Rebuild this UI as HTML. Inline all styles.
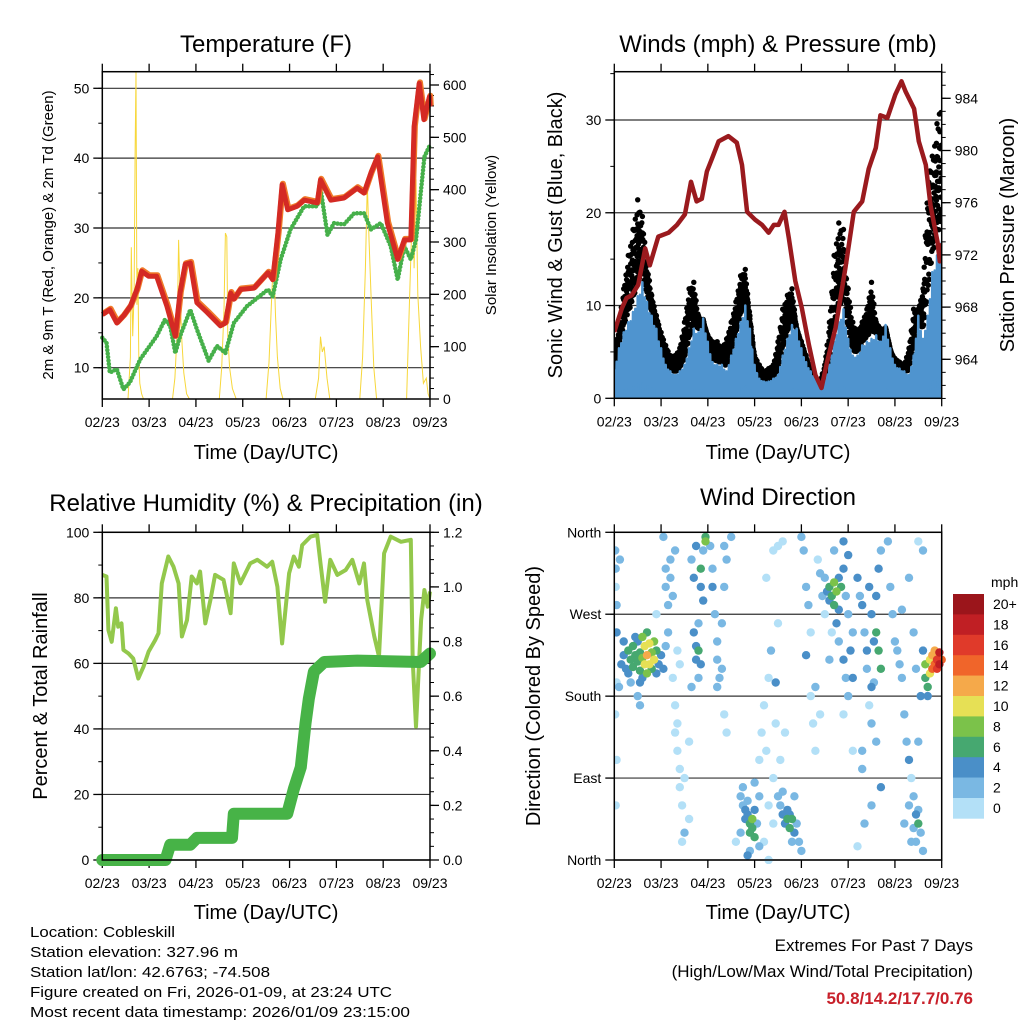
<!DOCTYPE html>
<html><head><meta charset="utf-8">
<style>
html,body{margin:0;padding:0;background:#fff;}
svg{display:block;font-family:"Liberation Sans",sans-serif;}
</style></head>
<body>
<svg id="fig" width="1024" height="1024" viewBox="0 0 1024 1024" xmlns="http://www.w3.org/2000/svg">
<rect width="1024" height="1024" fill="#fff"/>
<text x="266" y="52" font-size="24" text-anchor="middle">Temperature (F)</text>
<text x="778" y="52" font-size="24" text-anchor="middle">Winds (mph) &amp; Pressure (mb)</text>
<text x="266" y="511" font-size="24" text-anchor="middle">Relative Humidity (%) &amp; Precipitation (in)</text>
<text x="778" y="505" font-size="24" text-anchor="middle">Wind Direction</text>
<text x="266" y="459" font-size="20" text-anchor="middle">Time (Day/UTC)</text>
<text x="778" y="459" font-size="20" text-anchor="middle">Time (Day/UTC)</text>
<text x="266" y="919" font-size="20" text-anchor="middle">Time (Day/UTC)</text>
<text x="778" y="919" font-size="20" text-anchor="middle">Time (Day/UTC)</text>
<text transform="translate(53,235) rotate(-90)" font-size="15" text-anchor="middle">2m &amp; 9m T (Red, Orange) &amp; 2m Td (Green)</text>
<text transform="translate(496,235) rotate(-90)" font-size="15" text-anchor="middle">Solar Insolation (Yellow)</text>
<text transform="translate(562,235) rotate(-90)" font-size="20" text-anchor="middle">Sonic Wind &amp; Gust (Blue, Black)</text>
<text transform="translate(1014,235) rotate(-90)" font-size="20" text-anchor="middle">Station Pressure (Maroon)</text>
<text transform="translate(47,696) rotate(-90)" font-size="20" text-anchor="middle">Percent &amp; Total Rainfall</text>
<text transform="translate(540,696) rotate(-90)" font-size="20" text-anchor="middle">Direction (Colored By Speed)</text>
<g font-size="14.5">
<text x="30" y="937" textLength="145" lengthAdjust="spacingAndGlyphs">Location: Cobleskill</text>
<text x="30" y="957" textLength="208" lengthAdjust="spacingAndGlyphs">Station elevation: 327.96 m</text>
<text x="30" y="977" textLength="240" lengthAdjust="spacingAndGlyphs">Station lat/lon: 42.6763; -74.508</text>
<text x="30" y="997" textLength="362" lengthAdjust="spacingAndGlyphs">Figure created on Fri, 2026-01-09, at 23:24 UTC</text>
<text x="30" y="1017" textLength="380" lengthAdjust="spacingAndGlyphs">Most recent data timestamp: 2026/01/09 23:15:00</text>
</g>
<text x="973" y="951" font-size="17" text-anchor="end">Extremes For Past 7 Days</text>
<text x="973" y="977" font-size="17" text-anchor="end">(High/Low/Max Wind/Total Precipitation)</text>
<text x="973" y="1004" font-size="17" font-weight="bold" fill="#c8202a" text-anchor="end">50.8/14.2/17.7/0.76</text>
</svg>
<script>
// ---------- data ----------
const xTickLabels = ["02/23","03/23","04/23","05/23","06/23","07/23","08/23","09/23"];
const tempDays = [0,0.16,0.31,0.45,0.6,0.74,0.84,0.99,1.16,1.38,1.56,1.66,1.77,1.88,2.02,2.24,2.52,2.63,2.74,2.81,2.95,3.24,3.54,3.64,3.75,3.84,3.96,4.16,4.31,4.59,4.66,4.88,5.16,5.44,5.59,5.74,5.88,6.09,6.31,6.45,6.59,6.66,6.77,6.87,6.99,7];
const tempValues = [17.6,18.3,16.4,17.4,18.8,21.2,23.8,23.1,23.1,18.8,14.5,20.7,24.8,25,19.3,17.9,16,16.4,20.7,19.8,21.2,21.4,23.6,22.6,29.3,36.2,32.6,33.1,34,33.6,36.9,34,34.3,35.7,35,37.9,40.2,30.7,25.5,28.3,28.3,44.5,50.7,45.5,48.8,47.4];
const dewDays = [0,0.09,0.16,0.31,0.45,0.59,0.81,1.16,1.34,1.45,1.56,1.66,1.88,2.02,2.27,2.45,2.63,2.81,3.09,3.54,3.64,3.81,4.02,4.31,4.59,4.66,4.81,4.95,5.16,5.38,5.59,5.74,5.95,6.16,6.31,6.45,6.59,6.7,6.88,7];
const dewValues = [14.3,13.6,9.3,9.8,6.9,7.9,11.2,14.5,16.9,16,12.1,14.5,18.3,15.5,11,13.1,12.1,16.4,18.8,21.2,20.2,25.5,29.8,33.1,33.1,35.7,29,30.7,30.5,32.1,32.1,29.8,30.7,27.4,22.6,27.4,25.5,28.3,40.2,41.9];
const solarDays = [0,0.55,0.6,0.62,0.65,0.68,0.7,0.72,0.74,0.76,0.78,0.8,0.84,0.88,0.92,1.5,1.55,1.6,1.63,1.66,1.7,1.74,1.8,1.86,2.5,2.55,2.6,2.63,2.66,2.68,2.72,2.78,2.86,3.5,3.56,3.62,3.66,3.7,3.74,3.8,3.86,4.55,4.62,4.66,4.7,4.74,4.8,4.86,5.5,5.56,5.62,5.66,5.7,5.74,5.8,5.86,6.5,6.55,6.6,6.63,6.66,6.7,6.74,6.8,6.86,6.92,6.96,7];
const solarValues = [0,0,80,290,120,200,470,625,180,250,80,30,10,0,0,0,40,130,304,200,110,50,10,0,0,60,170,317,310,120,60,20,0,0,70,200,278,160,80,20,0,0,40,119,90,100,40,0,0,80,250,412,300,200,60,0,0,150,300,457,250,420,200,100,30,40,10,0];
const presDays = [0,0.16,0.26,0.37,0.51,0.66,0.76,0.94,1.16,1.34,1.51,1.64,1.76,1.87,1.98,2.09,2.23,2.44,2.62,2.73,2.84,3.01,3.16,3.3,3.41,3.51,3.64,3.73,3.87,4.01,4.16,4.3,4.43,4.55,4.73,4.94,5.12,5.3,5.44,5.59,5.69,5.84,6.01,6.14,6.23,6.41,6.51,6.66,6.76,6.91,6.96,7];
const presValues = [966.1,967.9,968.7,968.9,969.7,972.5,971.2,973.4,973.7,974.3,975.1,977.6,976.1,976.3,978.4,979.4,980.7,981.1,980.6,978.9,975.3,974.7,974.3,973.7,974.3,974.3,975.3,973.3,970,967.9,965.1,962.8,961.8,963.8,966.4,971,975.3,976.1,978.6,980.2,982.7,982.5,984.3,985.3,984.5,983.2,980.7,978.9,975.8,973,971.5,972.9];
const windDays = [0,0.1,0.2,0.3,0.4,0.5,0.6,0.7,0.8,0.9,1,1.1,1.2,1.3,1.4,1.5,1.6,1.7,1.8,1.9,2,2.1,2.2,2.3,2.4,2.5,2.6,2.7,2.8,2.9,3,3.1,3.2,3.3,3.4,3.5,3.6,3.7,3.8,3.9,4,4.1,4.2,4.3,4.4,4.5,4.6,4.7,4.8,4.9,5,5.1,5.2,5.3,5.4,5.5,5.6,5.7,5.8,5.9,6,6.1,6.2,6.3,6.4,6.5,6.6,6.7,6.8,6.9,7];
const windValues = [2.9,5.4,7.1,8.2,9.3,11,12.5,10.4,8.9,7.5,5.4,3.6,2.9,2.5,2.9,3.6,5.4,7.5,7.1,8.6,6.1,3.9,3.6,3.6,2.9,4.6,6.4,8.2,10,7.5,3.6,2.1,1.8,1.8,2.1,2.5,4.6,6.4,7.9,7.5,5.4,3.9,2.9,2.1,1.4,1.8,3.6,6.1,8.2,9.6,6.4,4.6,4.6,5.7,6.1,6.4,6.8,6.1,7.9,5.4,3.6,3.2,2.9,2.5,4.6,8.9,6.4,8.9,13.6,15.4,16.8];
const gustValues = [4.6,8.2,11.8,15.4,18.2,21.4,19.6,14.6,11.1,8.9,7.1,5.7,4.6,4.6,5.4,8.2,11.8,12.5,8.9,8.2,6.8,6.1,6.1,5.4,6.4,8.2,10.4,13.2,13.9,8.9,4.6,3.6,2.9,3.2,3.6,6.1,9.6,11.1,11.8,7.5,6.1,4.6,2.9,2.1,1.8,3.6,8.2,15.4,18.9,18.2,11.8,8.2,7.1,8.2,9.6,12.5,8.2,7.5,6.8,5,4.3,3.9,3.6,5.4,9.6,9.6,11.8,24.3,26.1,29.6,33.2];
const rhDays = [0,0.09,0.13,0.2,0.29,0.34,0.41,0.45,0.56,0.66,0.77,0.88,0.99,1.13,1.2,1.27,1.41,1.52,1.63,1.7,1.81,1.91,2.02,2.09,2.2,2.31,2.41,2.59,2.74,2.81,2.95,3.16,3.31,3.52,3.63,3.74,3.84,3.99,4.09,4.2,4.27,4.45,4.59,4.66,4.76,4.87,5.02,5.2,5.34,5.49,5.59,5.66,5.81,5.91,6.02,6.16,6.38,6.59,6.63,6.7,6.81,6.88,6.95,7];
const rhValues = [87,86.5,70.2,66.6,76.8,71.2,72.2,64.1,63,61.5,55.4,59,63.6,67.1,69.2,84.4,92.6,89.5,84.4,68.2,73.2,86.5,84.4,88,72.2,79.3,87,85.5,75.3,90.5,84.4,90.5,91.6,89.5,91,83.4,66.1,87.5,92.6,89.5,96.1,98.7,99.2,90.5,78.8,91.6,87,88.5,91.6,84.4,90.5,79.3,68.2,62.1,93.6,98.7,97.1,97.7,61,40.7,73.2,82.4,77.3,81.9];
const precipDays = [0,1.35,1.45,1.88,2.02,2.77,2.81,3.95,4.09,4.24,4.34,4.41,4.52,4.74,5.45,6.8,7];
const precipValues = [0,0,0.056,0.056,0.081,0.081,0.169,0.169,0.26,0.34,0.5,0.59,0.69,0.725,0.73,0.725,0.756];
const dirDays = [0.15,0.2,0.25,0.3,0.3,0.35,0.4,0.4,0.45,0.5,0.5,0.55,0.55,0.6,0.6,0.65,0.65,0.7,0.7,0.75,0.75,0.8,0.8,0.85,0.85,0.9,0.95,1.0,1.05,1.1,0.45,0.6,0.9,0.2,0.7,0.55,0.35,
0.02,0.03,0.03,0.05,0.05,0.02,0.05,0.03,0.12,0.5,0.55,0.9,0.05,0.1,
1.05,1.1,1.1,1.15,1.15,1.2,1.2,1.25,1.25,1.3,1.35,1.3,1.35,1.4,1.4,1.45,1.3,1.35,1.4,1.45,1.5,1.5,1.6,1.6,
1.65,1.7,1.7,1.75,1.75,1.8,1.8,1.85,1.85,1.9,1.95,1.95,1.9,1.75,1.8,1.65,1.85,
2.05,2.1,2.1,2.15,2.2,2.2,2.25,2.2,2.3,2.3,2.35,2.4,2.35,2.4,2.35,2.5,
2.7,2.75,2.8,2.8,2.85,2.85,2.9,2.9,2.95,2.95,3.0,3.0,3.05,3.1,2.75,2.7,2.6,2.9,3.0,3.1,2.85,
3.1,3.15,3.2,3.25,3.3,3.35,3.4,3.45,3.5,3.3,3.4,3.2,3.3,3.45,3.5,3.25,3.4,
3.55,3.6,3.65,3.7,3.7,3.75,3.75,3.8,3.85,3.9,3.95,4.0,3.6,3.85,3.55,3.65,3.5,3.6,3.8,
4.05,4.1,4.15,4.2,4.2,4.25,4.3,4.35,4.4,4.45,4.5,4.1,4.3,4.4,4.0,
4.5,4.55,4.6,4.6,4.65,4.7,4.7,4.75,4.8,4.8,4.85,4.9,4.95,5.0,5.0,4.75,4.8,4.9,4.95,5.0,5.05,5.1,5.1,4.9,4.9,5.1,4.7,4.65,4.6,
5.2,5.25,5.3,5.35,5.4,5.4,5.45,5.5,5.55,5.6,5.65,5.7,5.6,5.65,5.7,5.55,5.45,5.5,5.6,5.3,5.3,5.7,5.35,5.5,5.2,5.5,
5.85,5.9,5.95,6.0,6.05,6.1,6.15,6.2,6.25,6.3,6.35,6.4,6.45,6.4,6.5,6.55,6.6,6.3,6.35,6.2,6.5,6.55,6.45,6.6,6.4,6.5,6.6,6.3,6.15,6.5,6.45,
6.65,6.7,6.7,6.65,6.75,6.8,6.85,6.9,6.95,6.9,6.85,6.8,6.95,7.0,6.75];
const dirDegrees = [215,225,210,230,205,220,235,212,225,218,240,208,228,222,245,215,235,225,205,238,215,228,210,240,220,230,215,225,210,235,245,200,205,240,250,195,195,
340,320,300,280,195,160,110,60,330,180,170,270,250,190,
355,320,300,280,250,330,310,290,200,170,150,140,120,100,80,60,340,230,215,20,30,90,45,130,
330,310,250,235,220,230,260,320,300,340,355,350,285,345,200,190,215,
345,320,300,270,240,220,200,190,210,260,300,330,160,140,345,355,
70,60,55,45,65,50,40,30,45,35,55,25,40,70,80,30,20,10,85,15,5,
110,140,170,120,200,230,90,150,260,60,40,20,0,195,70,310,340,
60,50,40,45,55,35,50,45,30,40,20,10,75,70,110,140,345,350,20,
340,300,280,250,180,150,190,330,315,290,270,225,120,160,355,
310,295,285,300,290,305,280,295,310,275,300,320,290,335,270,260,240,220,200,180,230,250,200,350,160,120,340,250,220,
310,290,280,250,230,210,300,270,240,290,320,340,250,230,210,195,170,150,130,100,120,80,40,60,15,190,
350,300,270,240,230,215,200,160,130,110,90,70,50,35,55,30,10,60,20,40,130,180,210,230,250,350,340,310,275,40,20,
200,190,180,215,220,225,215,220,228,210,230,210,215,220,205];
const dirSpeeds = [4,4,5,6,4,7,6,7,6,7,5,6,7,8,9,10,11,12,9,10,11,9,7,8,10,7,5,4,4,3,4,5,4,4,7,4,3,
2,2,1,3,1,1,1,0,3,3,3,1,4,3,
2,2,3,2,3,2,3,2,1,1,0,1,0,1,1,0,2,1,0,1,2,0,1,0,
3,4,4,5,4,6,3,6,5,3,7,8,4,4,3,2,4,
3,2,4,3,3,2,3,2,3,3,2,2,1,1,2,3,
3,3,4,4,3,5,6,7,8,7,5,6,3,2,3,2,1,3,2,2,4,
1,0,1,0,1,2,0,1,1,1,0,0,1,4,2,1,0,
3,4,5,6,5,7,4,6,4,3,2,2,2,2,1,1,0,0,3,
2,2,3,1,1,1,2,1,2,3,1,4,1,1,2,
3,4,5,6,7,8,6,9,5,4,6,4,3,4,3,4,3,4,3,3,4,3,4,4,1,1,3,1,2,
4,3,4,3,4,3,4,5,4,5,4,3,7,6,7,3,1,2,3,3,2,4,2,2,1,4,
3,2,2,2,2,3,2,2,2,4,1,3,4,3,2,3,2,3,3,2,3,4,2,4,2,1,2,2,2,7,3,
6,7,5,8,11,13,15,17,19,16,12,14,18,15,10];
const speedBinLabels = ["0","2","4","6","8","10","12","14","16","18","20+"];
const speedBinColors = ["#b3e0f7","#7ab8e3","#4a8fc8","#46a870","#7bc24a","#e6e055","#f5a94a","#f0652a","#e03a2a","#c01f24","#9b151b"];

// ---------- helpers ----------
const NS = "http://www.w3.org/2000/svg";
const fig = document.getElementById("fig");
function mk(tag, attrs, parent) {
  const e = document.createElementNS(NS, tag);
  for (const k in attrs) e.setAttribute(k, attrs[k]);
  (parent || fig).appendChild(e);
  return e;
}
function scale(d0, d1, r0, r1) { return v => r0 + (v - d0) * (r1 - r0) / (d1 - d0); }
function pathFrom(xs, ys, fx, fy) {
  return xs.map((d, i) => (i ? "L" : "M") + fx(d).toFixed(1) + " " + fy(ys[i]).toFixed(1)).join("");
}
const P1 = {x0: 102.3, x1: 430, y0: 71.7, y1: 399};
const P2 = {x0: 614.3, x1: 941.7, y0: 71.7, y1: 398.3};
const P3 = {x0: 102.3, x1: 430, y0: 532.3, y1: 860};
const P4 = {x0: 614.3, x1: 941.7, y0: 532.3, y1: 860};

function frame(P, name) {
  const g = mk("g", {});
  
  
  const fx = scale(0, 7, P.x0, P.x1);
  xTickLabels.forEach((lab, i) => {
    const x = fx(i);
    mk("line", {x1: x, x2: x, y1: P.y1, y2: P.y1 + 8, stroke: "#000", "stroke-width": 1.3}, g);
    mk("line", {x1: x, x2: x, y1: P.y0, y2: P.y0 - 8, stroke: "#000", "stroke-width": 1.3}, g);
    const t = mk("text", {x: x, y: P.y1 + 28, "font-size": 14, "text-anchor": "middle"}, g);
    t.textContent = lab;
    
    
  });
  return g;
}
function box(P) {
  mk("rect", {x: P.x0, y: P.y0, width: P.x1 - P.x0, height: P.y1 - P.y0, fill: "none", stroke: "#000", "stroke-width": 1.5});
}
function yAxis(P, fy, ticks, labels, side, minorStep, lo, hi, grid) {
  const g = mk("g", {});
  
  
  const x = side === "left" ? P.x0 : P.x1, s = side === "left" ? -1 : 1;
  for (let v = lo; v <= hi + 1e-9; v += minorStep) {
    const y = fy(v);
    if (y < P.y0 - 0.5 || y > P.y1 + 0.5) continue;
    mk("line", {x1: x, x2: x + s * 4, y1: y, y2: y, stroke: "#000", "stroke-width": 1}, g);
  }
  ticks.forEach((v, i) => {
    const y = fy(v);
    if (grid) mk("line", {x1: P.x0, x2: P.x1, y1: y, y2: y, stroke: "#333", "stroke-width": 1.2}, g);
    mk("line", {x1: x, x2: x + s * 9, y1: y, y2: y, stroke: "#000", "stroke-width": 1.3}, g);
    const t = mk("text", {x: x + s * 13, y: y + 5, "font-size": 14, "text-anchor": side === "left" ? "end" : "start"}, g);
    t.textContent = labels[i];
    
    
  });
}

// ---------- Panel 1: Temperature ----------
(function () {
  const fx = scale(0, 7, P1.x0, P1.x1);
  const fy = scale(10, 50, 367.7, 88.3);
  const fs = scale(0, 600, 399, 85);
  frame(P1, "temperature");
  yAxis(P1, fy, [10,20,30,40,50], ["10","20","30","40","50"], "left", 5, 5, 55, true);
  yAxis(P1, fs, [0,100,200,300,400,500,600], ["0","100","200","300","400","500","600"], "right", 20, 0, 640, false);
  const sol = mk("path", {d: pathFrom(solarDays, solarValues, fx, fs), fill: "none", stroke: "#f7d73a", "stroke-width": 1});
  
  
  const dew = mk("path", {d: pathFrom(dewDays, dewValues, fx, fy), fill: "none", stroke: "#46b04a", "stroke-width": 4.5, "stroke-dasharray": "0 3.5", "stroke-linecap": "round", "stroke-linejoin": "round"});
  
  
  const t9 = mk("path", {d: pathFrom(tempDays, tempValues, fx, fy), fill: "none", stroke: "#f07b2a", "stroke-width": 6, "stroke-linejoin": "round", transform: "translate(0.8,-1)"});
  
  
  const t2 = mk("path", {d: pathFrom(tempDays, tempValues, fx, fy), fill: "none", stroke: "#d42a24", "stroke-width": 5, "stroke-linejoin": "round"});
  
  
  box(P1);
})();

// ---------- Panel 2: Winds & Pressure ----------
(function () {
  const fx = scale(0, 7, P2.x0, P2.x1);
  const fy = scale(0, 30, 398.3, 120);
  const fp = scale(964, 984, 359.3, 98.3);
  frame(P2, "winds");
  yAxis(P2, fy, [0,10,20,30], ["0","10","20","30"], "left", 5, 0, 35, true);
  yAxis(P2, fp, [964,968,972,976,980,984], ["964","968","972","976","980","984"], "right", 1, 961, 986, false);
  const clip = mk("clipPath", {id: "c2"});
  mk("rect", {x: P2.x0, y: P2.y0, width: P2.x1 - P2.x0, height: P2.y1 - P2.y0}, clip);
  const g = mk("g", {"clip-path": "url(#c2)"});
  
  
  const gustPattern = [1, 0.72, 0.9, 0.6, 0.95, 0.8, 0.66, 0.88];
  const windPattern = [1, 0.15, 0.85, 0.3, 0.95, 0.05, 0.7, 0.4];
  const SUB = 8;
  // gust dots
  const gd = mk("g", {fill: "#000"}, g);
  
  
  for (let i = 0; i < windDays.length - 1; i++) {
    for (let k = 0; k < SUB; k++) {
      const f = k / SUB;
      const d = windDays[i] + (windDays[i + 1] - windDays[i]) * f;
      const gv = gustValues[i] + (gustValues[i + 1] - gustValues[i]) * f;
      const wv = windValues[i] + (windValues[i + 1] - windValues[i]) * f;
      const top = wv + (gv - wv) * gustPattern[k];
      for (let j = 0; j < 4; j++) {
        const v = wv + (top - wv) * (1 - j / 4);
        mk("circle", {cx: fx(d).toFixed(1), cy: fy(v).toFixed(1), r: 2.7}, gd);
      }
    }
  }
  // wind band (jagged)
  let dStr = "M" + fx(0).toFixed(1) + " " + fy(0).toFixed(1);
  for (let i = 0; i < windDays.length - 1; i++) {
    for (let k = 0; k < SUB; k++) {
      const f = k / SUB;
      const d = windDays[i] + (windDays[i + 1] - windDays[i]) * f;
      const wv = windValues[i] + (windValues[i + 1] - windValues[i]) * f;
      dStr += "L" + fx(d).toFixed(1) + " " + fy(wv * windPattern[k]).toFixed(1);
    }
  }
  dStr += "L" + fx(7).toFixed(1) + " " + fy(windValues[windValues.length - 1]).toFixed(1) + "L" + fx(7).toFixed(1) + " " + fy(0).toFixed(1) + "Z";
  const band = mk("path", {d: dStr, fill: "#4f94cf", stroke: "#4f94cf", "stroke-width": 2.5, "stroke-linejoin": "round"}, g);
  
  
  const pr = mk("path", {d: pathFrom(presDays, presValues, fx, fp), fill: "none", stroke: "#9a1a1e", "stroke-width": 4.5, "stroke-linejoin": "round"}, g);
  
  
  box(P2);
})();

// ---------- Panel 3: RH & Precip ----------
(function () {
  const fx = scale(0, 7, P3.x0, P3.x1);
  const fy = scale(0, 100, 860, 532.3);
  const fr = scale(0, 1.2, 860, 532.3);
  frame(P3, "humidity");
  yAxis(P3, fy, [0,20,40,60,80,100], ["0","20","40","60","80","100"], "left", 10, 0, 100, true);
  yAxis(P3, fr, [0,0.2,0.4,0.6,0.8,1.0,1.2], ["0.0","0.2","0.4","0.6","0.8","1.0","1.2"], "right", 0.05, 0, 1.2, false);
  const rh = mk("path", {d: pathFrom(rhDays, rhValues, fx, fy), fill: "none", stroke: "#93c84c", "stroke-width": 4, "stroke-linejoin": "round"});
  
  
  const pc = mk("path", {d: pathFrom(precipDays, precipValues, fx, fr), fill: "none", stroke: "#47b347", "stroke-width": 12, "stroke-linejoin": "round", "stroke-linecap": "round"});
  
  
  box(P3);
})();

// ---------- Panel 4: Wind direction ----------
(function () {
  const fx = scale(0, 7, P4.x0, P4.x1);
  const fy = scale(0, 360, 860, 532.3);
  frame(P4, "wind-direction");
  yAxis(P4, fy, [0,90,180,270,360], ["North","East","South","West","North"], "left", 90, 0, 360, true);
  const clip = mk("clipPath", {id: "c4"});
  mk("rect", {x: P4.x0, y: P4.y0 - 4, width: P4.x1 - P4.x0 + 5, height: P4.y1 - P4.y0 + 8}, clip);
  const g = mk("g", {"clip-path": "url(#c4)"});
  
  
  const order = dirDays.map((d, i) => i).sort((a, b) => dirSpeeds[a] - dirSpeeds[b]);
  order.forEach(i => {
    const bin = Math.min(10, Math.floor(dirSpeeds[i] / 2));
    const c = mk("circle", {cx: fx(dirDays[i]).toFixed(1), cy: fy(dirDegrees[i]).toFixed(1), r: 4.2, fill: speedBinColors[bin]}, g);
    
    
  });
  box(P4);
  // colorbar
  const cb = mk("g", {});
  
  
  const top = 594, h = 20.4;
  const mt = mk("text", {x: 991, y: 587, "font-size": 14}, cb);
  mt.textContent = "mph";
  speedBinLabels.slice().reverse().forEach((lab, j) => {
    const idx = speedBinLabels.length - 1 - j;
    mk("rect", {x: 953, y: top + j * h, width: 31, height: h + 0.3, fill: speedBinColors[idx]}, cb);
    const t = mk("text", {x: 993, y: top + j * h + 15, "font-size": 14}, cb);
    t.textContent = lab;
    
    
  });
})();
</script>
</body></html>
